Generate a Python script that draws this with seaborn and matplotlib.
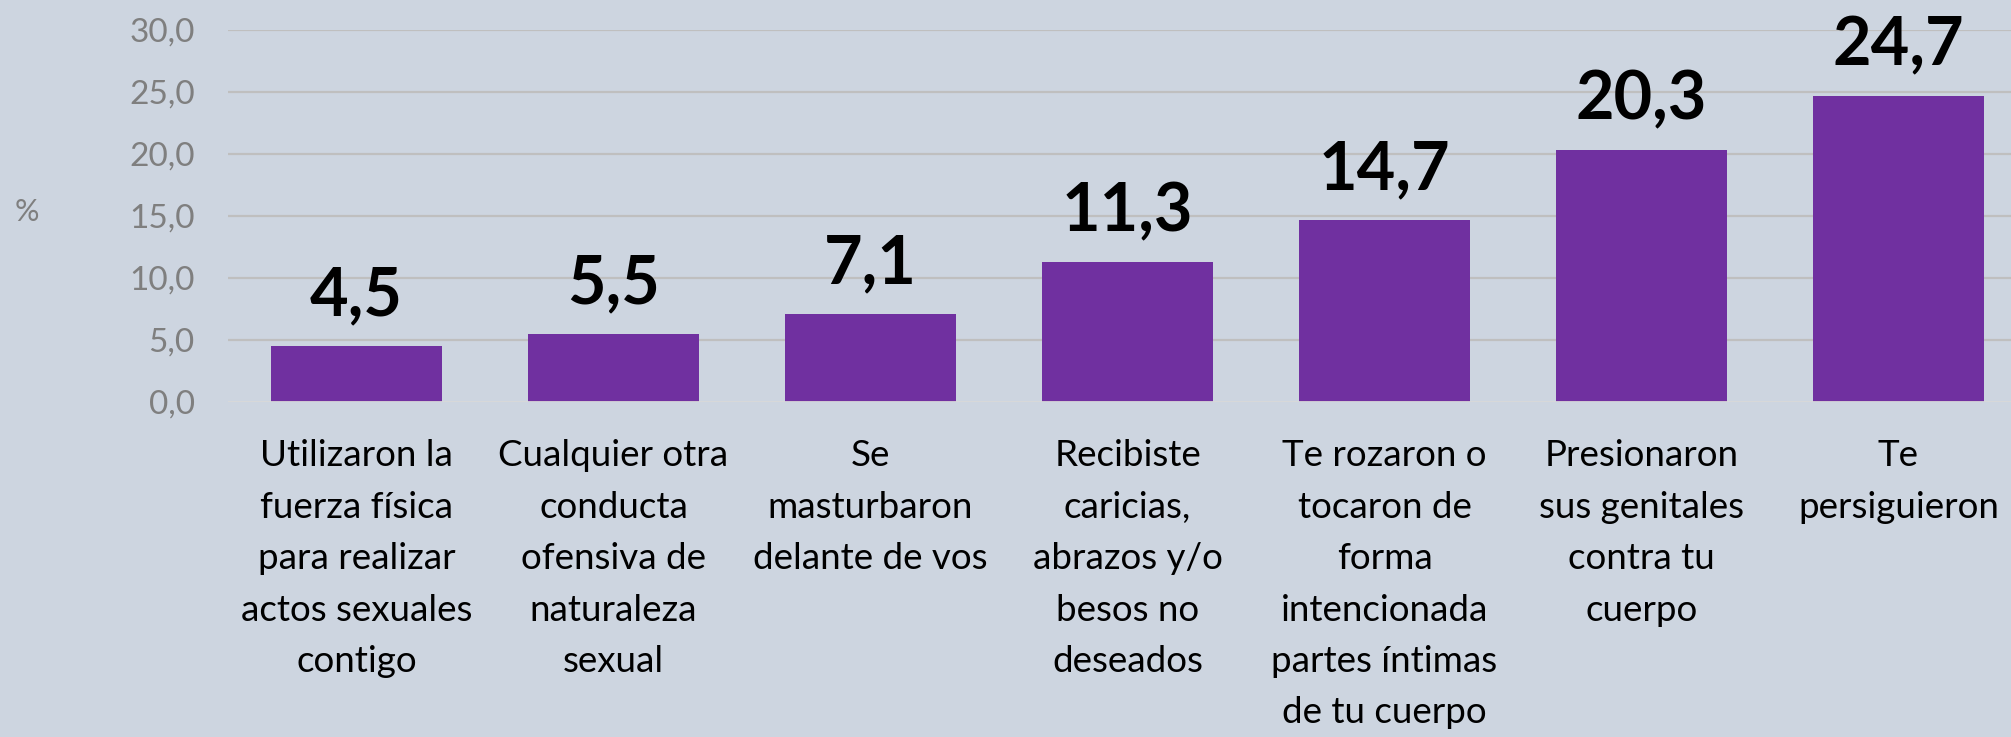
import numpy as np
import pandas as pd
import matplotlib.pyplot as plt
import seaborn as sns

# ===============================
# DATA
# ===============================
categorias = [
    "Utilizaron la\nfuerza física\npara realizar\nactos sexuales\ncontigo",
    "Cualquier otra\nconducta\nofensiva de\nnaturaleza\nsexual",
    "Se\nmasturbaron\ndelante de vos",
    "Recibiste\ncaricias,\nabrazos y/o\nbesos no\ndeseados",
    "Te rozaron o\ntocaron de\nforma\nintencionada\npartes íntimas\nde tu cuerpo",
    "Presionaron\nsus genitales\ncontra tu\ncuerpo",
    "Te\npersiguieron",
]
porcentajes = [4.5, 5.5, 7.1, 11.3, 14.7, 20.3, 24.7]
yticks = [0, 5, 10, 15, 20, 25, 30]
ytick_labels = ["0,0", "5,0", "10,0", "15,0", "20,0", "25,0", "30,0"]

BG = "#CDD5E0"
PURPLE = "#7030A0"
GREY = "#7F7F7F"

sns.set_theme(style="white")
plt.rcParams["font.family"] = ["Lato", "DejaVu Sans"]

df = pd.DataFrame({"cat": categorias, "pct": porcentajes})

fig = plt.figure(figsize=(20.11, 7.37), dpi=100, facecolor=BG)
ax = fig.add_axes([228 / 2011, 335 / 737, 1799 / 2011, 372 / 737])
ax.set_facecolor(BG)

sns.barplot(data=df, x="cat", y="pct", color=PURPLE, width=0.665,
            saturation=1, ax=ax, zorder=3, edgecolor="none", linewidth=0)

ax.set_ylim(0, 30)
ax.set_xlim(-0.5, len(categorias) - 0.5)
ax.set_yticks(yticks)
ax.set_yticklabels(ytick_labels, color=GREY, fontsize=24)
ax.tick_params(axis="y", length=0, pad=24)
ax.tick_params(axis="x", length=0, pad=27)
ax.set_xticks(range(len(categorias)))
ax.set_xticklabels(categorias, fontsize=26.5, color="black",
                   linespacing=1.68, va="top", ha="center")

for y in yticks[1:]:
    ax.axhline(y, color="#BFBFBF", lw=1.6, zorder=1)
ax.axhline(0, color="#D9D9D9", lw=2, zorder=4)

for s in ax.spines.values():
    s.set_visible(False)

for i, v in enumerate(porcentajes):
    ax.annotate(f"{v:.1f}".replace(".", ","), (i, v), xytext=(0, 22),
                textcoords="offset points", ha="center", va="baseline",
                fontsize=48, fontweight="bold", color="black")

ax.set_xlabel("")
ax.set_ylabel("%", rotation=0, color=GREY, fontsize=22, va="center", ha="center")
ax.yaxis.set_label_coords(-0.112, 0.51)

fig.savefig("out.png", dpi=100, facecolor=BG)
